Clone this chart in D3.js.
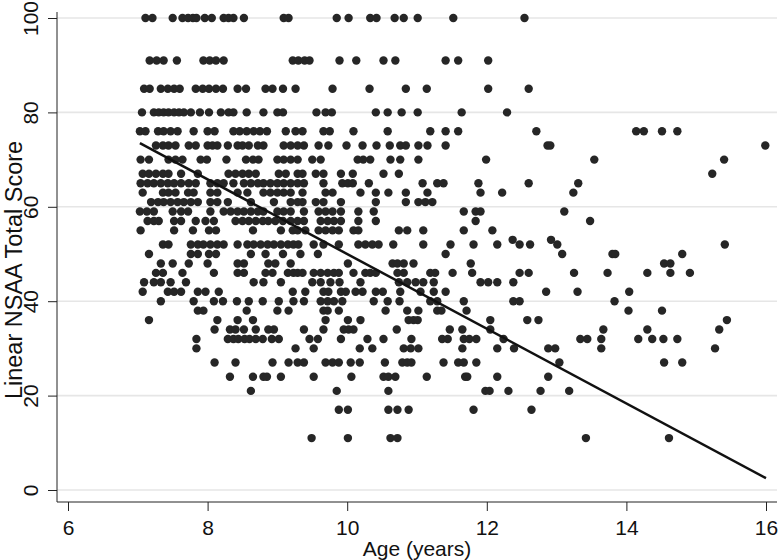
<!DOCTYPE html>
<html><head><meta charset="utf-8">
<script src="https://cdn.jsdelivr.net/npm/d3@7"></script>
<style>body{margin:0;background:#fff;}svg{display:block;font-family:"Liberation Sans",Arial,sans-serif;}</style>
</head><body><div id="chart"></div>
<script>
// Linear NSAA total score levels and the ages (years) of the observations at each level
const scoreLevels = [100,91,85,80,76,73,70,67,65,63,61,59,57,55,53,52,50,48,46,44,42,40,38,36,34,32,30,27,24,21,17,11];
const agesAt100 = [7.11,7.21,7.50,7.64,7.72,7.79,7.84,7.96,8.06,8.23,8.30,8.37,8.52,9.09,9.16,9.85,10.02,10.33,10.42,10.68,10.81,11.01,11.52,12.54];
const agesAt91 = [7.17,7.27,7.37,7.56,7.94,8.03,8.12,8.23,9.22,9.30,9.39,9.46,9.89,10.13,10.52,10.69,11.41,11.59,12.02];
const agesAt85 = [7.09,7.17,7.33,7.43,7.52,7.60,7.83,7.93,8.02,8.12,8.22,8.43,8.55,8.83,8.93,9.08,9.26,9.79,10.32,10.84,11.14,12.02,12.60];
const agesAt80 = [7.06,7.23,7.30,7.37,7.44,7.52,7.59,7.66,7.76,7.89,8.02,8.19,8.30,8.37,8.56,8.80,9.00,9.08,9.56,9.69,9.78,10.41,10.58,10.78,11.01,11.64,12.29];
const agesAt76 = [7.03,7.11,7.29,7.37,7.47,7.57,7.80,8.00,8.10,8.37,8.46,8.56,8.66,8.75,8.85,9.12,9.26,9.36,9.66,9.75,10.09,10.58,11.19,11.41,11.59,12.71,14.14,14.25,14.51,14.73];
const agesAt73 = [7.26,7.36,7.44,7.54,7.73,7.83,8.00,8.07,8.14,8.29,8.43,8.50,8.59,8.72,8.80,9.09,9.19,9.29,9.38,9.59,9.73,9.99,10.22,10.42,10.61,10.76,10.84,11.02,11.15,11.41,12.87,12.91,15.99];
const agesAt70 = [7.04,7.16,7.44,7.54,7.64,7.90,7.99,8.27,8.55,8.65,8.73,9.00,9.09,9.19,9.29,9.50,9.62,10.15,10.23,10.33,10.62,10.76,11.02,11.99,13.54,15.40];
const agesAt67 = [7.07,7.16,7.26,7.36,7.44,7.62,7.86,8.30,8.40,8.50,8.59,8.69,9.02,9.12,9.29,9.36,9.55,9.66,9.91,10.08,10.52,10.74,15.23];
const agesAt65 = [7.04,7.14,7.23,7.33,7.43,7.52,7.62,7.73,7.83,8.04,8.14,8.23,8.37,8.52,8.62,8.72,8.80,8.90,9.00,9.09,9.19,9.29,9.38,9.66,9.93,10.01,10.08,10.31,11.08,11.29,11.38,11.88,12.60,13.31];
const agesAt63 = [7.07,7.36,7.44,7.54,7.72,7.80,8.04,8.14,8.43,8.57,8.80,8.90,9.00,9.09,9.19,9.36,9.69,9.79,10.19,10.41,10.59,10.84,11.15,11.91,12.22,13.24];
const agesAt61 = [7.19,7.29,7.37,7.47,7.57,7.66,7.76,7.86,8.04,8.14,8.29,8.62,8.95,9.19,9.29,9.36,9.55,9.66,9.91,10.41,10.84,11.02,11.12,11.22];
const agesAt59 = [7.03,7.13,7.23,7.50,7.62,7.72,8.04,8.23,8.33,8.43,8.52,8.62,8.72,8.80,9.00,9.09,9.19,9.38,9.59,9.69,9.79,9.91,10.16,10.38,11.67,11.84,11.91,13.11];
const agesAt57 = [7.14,7.23,7.30,7.52,7.62,7.83,7.97,8.09,8.40,8.50,8.59,8.69,8.79,8.87,8.97,9.08,9.19,9.29,9.38,9.62,9.72,9.81,9.91,10.16,10.41,11.84,13.48];
const agesAt55 = [7.04,7.52,7.79,8.02,8.12,8.65,9.05,9.22,9.29,9.40,9.59,9.69,9.79,9.88,10.09,10.16,10.74,10.86,11.09,11.67,12.08];
const agesAt53 = [12.37,12.92];
const agesAt52 = [7.36,7.44,7.76,7.86,7.94,8.04,8.14,8.23,8.43,8.57,8.66,8.76,8.86,8.95,9.05,9.15,9.23,9.30,9.52,9.66,9.88,10.16,10.26,10.36,10.45,10.66,11.09,11.48,11.81,12.15,12.47,12.62,13.01,15.41];
const agesAt50 = [7.16,7.76,7.86,8.02,8.12,8.62,8.83,9.08,9.33,9.58,11.41,13.08,13.80,13.84,14.80];
const agesAt48 = [7.33,7.50,7.73,8.00,8.43,8.52,8.87,8.97,9.19,10.01,10.65,10.72,10.81,10.95,11.77,14.54,14.63];
const agesAt46 = [7.26,7.36,7.64,8.09,8.43,8.52,8.83,8.93,9.15,9.23,9.29,9.36,9.52,9.62,9.72,9.81,9.88,10.09,10.26,10.33,10.41,10.72,10.81,11.19,11.26,11.51,11.79,12.47,12.60,13.25,13.73,14.30,14.63,14.91];
const agesAt44 = [7.09,7.23,7.33,7.47,7.69,8.66,8.80,9.05,9.50,9.62,9.76,9.89,10.19,10.74,10.86,10.98,11.09,11.24,11.91,12.02,12.15,12.38];
const agesAt42 = [7.07,7.43,7.52,7.62,7.86,7.97,8.16,9.22,9.40,9.66,9.73,9.91,9.98,10.12,10.22,10.41,10.51,10.76,11.05,11.24,11.41,12.85,13.30,14.04];
const agesAt40 = [7.33,7.80,8.09,8.22,8.42,8.59,8.79,9.02,9.23,9.38,9.62,9.72,9.81,9.93,10.38,10.58,10.75,11.19,11.29,11.67,12.38,12.47,13.83];
const agesAt38 = [7.86,7.94,8.56,9.00,9.16,9.66,9.72,9.88,10.55,10.86,11.02,11.29,11.35,11.71,14.03,14.51];
const agesAt36 = [7.16,8.14,8.43,8.65,9.69,10.01,10.19,10.88,10.95,11.01,12.05,12.58,12.74,15.44];
const agesAt34 = [8.10,8.32,8.40,8.52,8.69,8.87,8.95,9.38,9.66,9.95,10.02,10.09,10.71,11.47,11.65,12.05,13.67,14.30,15.33];
const agesAt32 = [7.84,8.29,8.37,8.44,8.53,8.60,8.69,8.79,8.92,9.02,9.46,9.58,9.91,10.29,10.52,10.92,11.36,11.44,11.67,11.75,11.85,12.24,13.34,13.44,13.64,14.17,14.37,14.53,14.73];
const agesAt30 = [7.84,9.26,9.52,10.18,10.36,10.81,10.91,11.02,11.65,12.15,12.39,12.88,12.98,13.64,15.27];
const agesAt27 = [8.10,8.40,8.93,9.16,9.29,9.38,9.69,9.79,9.88,10.05,10.18,10.54,10.79,10.86,10.92,11.38,11.59,11.67,11.85,13.04,14.54,14.80];
const agesAt24 = [8.32,8.65,8.80,8.85,9.05,9.52,10.06,10.52,10.59,10.69,11.14,11.69,11.72,12.15,12.88];
const agesAt21 = [8.62,9.85,10.59,11.98,12.04,12.31,12.77,13.18];
const agesAt17 = [9.88,10.01,10.59,10.72,10.88,11.81,12.64];
const agesAt11 = [9.49,10.01,10.62,10.72,13.42,14.61];
const agesByLevel = [agesAt100,agesAt91,agesAt85,agesAt80,agesAt76,agesAt73,agesAt70,agesAt67,agesAt65,agesAt63,agesAt61,agesAt59,agesAt57,agesAt55,agesAt53,agesAt52,agesAt50,agesAt48,agesAt46,agesAt44,agesAt42,agesAt40,agesAt38,agesAt36,agesAt34,agesAt32,agesAt30,agesAt27,agesAt24,agesAt21,agesAt17,agesAt11];

// fitted linear regression line (age, score) end points
const fitAges = [7.03, 16];
const fitScores = [73.5, 2.5];

const xTicks = [6,8,10,12,14,16];
const yTicks = [0,20,40,60,80,100];
const xTitle = "Age (years)";
const yTitle = "Linear NSAA Total Score";

const points = [];
scoreLevels.forEach((s,i)=>agesByLevel[i].forEach(a=>points.push({age:a, score:s})));

const W=780, H=560;
const svg = d3.select("#chart").append("svg").attr("width",W).attr("height",H);
const x = d3.scaleLinear().domain([6,16]).range([68,766]);
const y = d3.scaleLinear().domain([0,100]).range([490,18]);
const axisX = 57, axisY = 502;
const FONT = "Liberation Sans, Arial, sans-serif";

// gridlines
svg.append("g").selectAll("line").data(yTicks).join("line")
  .attr("x1",axisX).attr("x2",777).attr("y1",d=>y(d)).attr("y2",d=>y(d))
  .attr("stroke","#e6e6e6").attr("stroke-width",1.6);

// y axis
const gy = svg.append("g").attr("transform",`translate(${axisX},0)`)
  .call(d3.axisLeft(y).tickValues(yTicks).tickSize(9).tickPadding(0).tickFormat(d3.format("d")));
gy.select(".domain").attr("d",`M0,${y(100)-6}V${axisY}`).attr("stroke","#222");
gy.selectAll(".tick line").attr("stroke","#222");
gy.selectAll(".tick text").attr("x",0).attr("y",0)
  .attr("transform","translate(-26,0) rotate(-90)")
  .attr("text-anchor","middle").attr("dy","0.35em")
  .attr("font-size",21).attr("fill","#111").style("font-family",FONT);

// x axis
const gx = svg.append("g").attr("transform",`translate(0,${axisY})`)
  .call(d3.axisBottom(x).tickValues(xTicks).tickSize(9).tickPadding(9).tickFormat(d3.format("d")));
gx.select(".domain").attr("d",`M${axisX},0H777`).attr("stroke","#222");
gx.selectAll(".tick line").attr("stroke","#222");
gx.selectAll(".tick text").attr("font-size",21).attr("fill","#111").style("font-family",FONT);

// titles
svg.append("text").attr("x",(x(6)+x(16))/2).attr("y",556).attr("text-anchor","middle")
  .attr("font-size",21).attr("fill","#111").style("font-family",FONT).text(xTitle);
svg.append("text").attr("transform",`translate(22,270) rotate(-90)`)
  .attr("text-anchor","middle").attr("font-size",23.5).attr("fill","#111").style("font-family",FONT).text(yTitle);

// points
svg.append("g").selectAll("circle").data(points).join("circle")
  .attr("cx",d=>x(d.age)).attr("cy",d=>y(d.score)).attr("r",4.2).attr("fill","#262626");

// fit line
svg.append("line").attr("x1",x(fitAges[0])).attr("y1",y(fitScores[0]))
  .attr("x2",x(fitAges[1])).attr("y2",y(fitScores[1]))
  .attr("stroke","#111").attr("stroke-width",2.5);
</script></body></html>
